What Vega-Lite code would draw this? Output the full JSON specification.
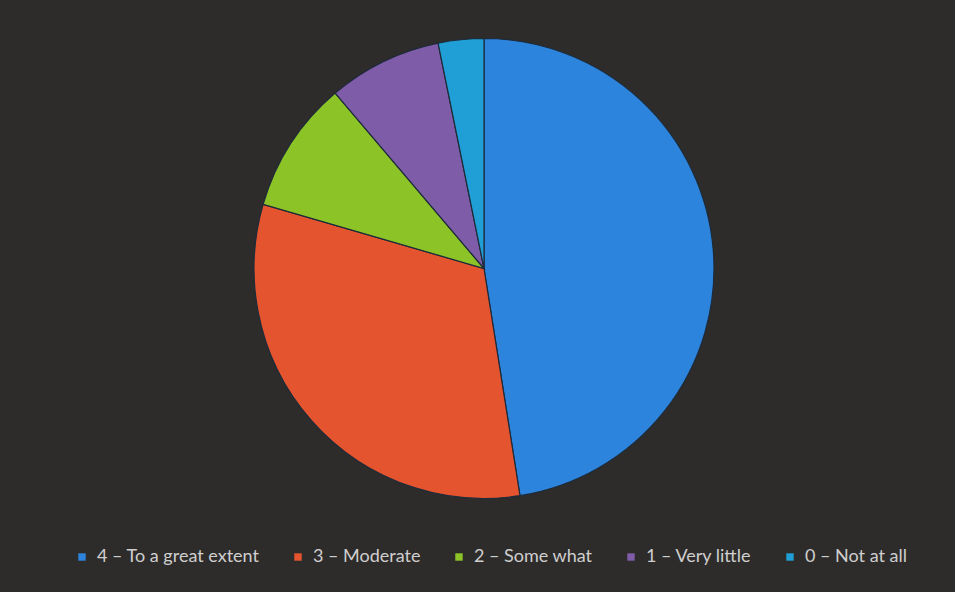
{
  "$schema": "https://vega.github.io/schema/vega-lite/v6.json",
  "autosize": "none",
  "width": 942,
  "height": 537,
  "padding": {"left": 13, "top": 0, "right": 0, "bottom": 55},
  "background": "#2e2c2a",
  "config": {"view": {"stroke": null}},
  "data": {
    "values": [
      {"category": "4 – To a great extent", "value": 47.5},
      {"category": "3 – Moderate", "value": 32.0},
      {"category": "2 – Some what", "value": 9.3},
      {"category": "1 – Very little", "value": 8.0},
      {"category": "0 – Not at all", "value": 3.2}
    ]
  },
  "mark": {"type": "arc", "outerRadius": 230, "stroke": "#1d2b3a", "strokeWidth": 1.2},
  "encoding": {
    "theta": {"field": "value", "type": "quantitative", "stack": true},
    "order": {"field": "category", "sort": "descending"},
    "color": {
      "field": "category",
      "type": "nominal",
      "sort": "descending",
      "scale": {
        "domain": ["4 – To a great extent", "3 – Moderate", "2 – Some what", "1 – Very little", "0 – Not at all"],
        "range": ["#2c84dc", "#e4542e", "#8cc428", "#7e5ca8", "#1f9fd6"]
      },
      "legend": {
        "title": null,
        "orient": "none",
        "direction": "horizontal",
        "legendX": 60,
        "legendY": 548,
        "symbolType": "square",
        "symbolSize": 55,
        "symbolStrokeWidth": 0,
        "labelFont": "Lato",
        "labelFontSize": 18,
        "labelColor": "#cfcfcf",
        "columnPadding": 29,
        "labelOffset": 6,
        "labelLimit": 300
      }
    }
  }
}
